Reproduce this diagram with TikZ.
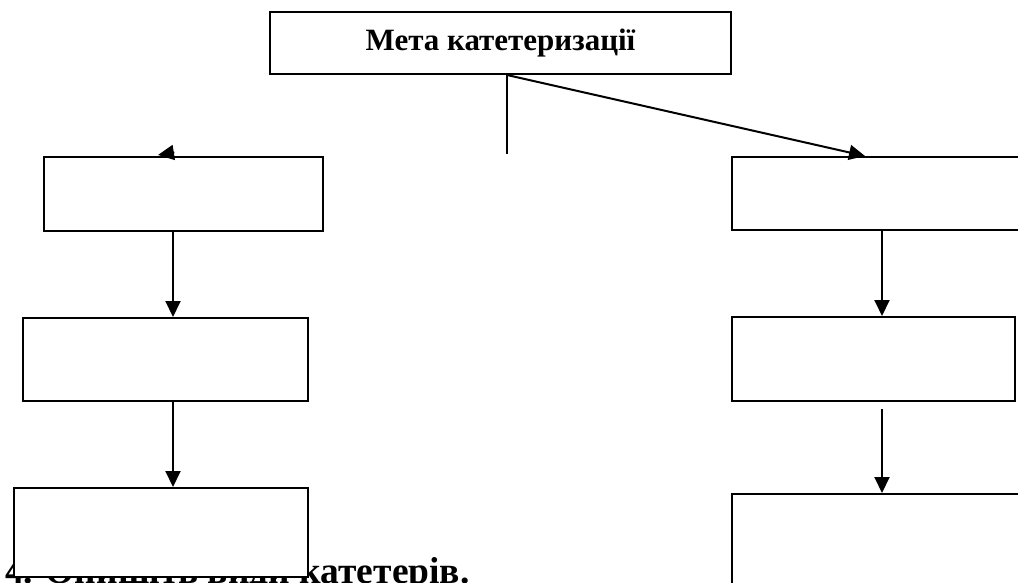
\documentclass[tikz,border=0pt]{standalone}
\usepackage{fontspec}
\setmainfont{Liberation Serif}
\usetikzlibrary{arrows.meta,positioning,calc}

\begin{document}
\begin{tikzpicture}[
    x=1pt, y=-1pt,
    node distance=85pt,
    blank/.style={rectangle, draw=black, line width=2pt, fill=white, inner sep=0pt},
    goal/.style={blank, minimum width=461pt, minimum height=62pt,
        font=\fontsize{31}{36}\selectfont\bfseries},
    arr/.style={-{Triangle[length=16pt, width=15pt]}, line width=2pt}
]
\clip (0,0) rectangle (1018,583);
\fill[white] (0,0) rectangle (1018,583);

\node[anchor=base west, inner sep=0pt, font=\fontsize{37.5}{44}\selectfont\bfseries] (task) at (5,583) {4. Опишіть види катетерів.};

\node[goal] (aim) at (500.5,43) {Мета катетеризації};

% left column
\node[blank, anchor=north west, minimum width=279pt, minimum height=74pt] (lbox1) at (43,156) {};
\node[blank, below=of lbox1.south west, anchor=north west, xshift=-21pt, minimum width=285pt, minimum height=83pt] (lbox2) {};
\node[blank, below=of lbox2.south west, anchor=north west, xshift=-9pt, minimum width=294pt, minimum height=89pt] (lbox3) {};

% right column
\node[blank, anchor=north west, minimum width=294pt, minimum height=73pt] (rbox1) at (731,156) {};
\node[blank, below=of rbox1.south west, anchor=north west, minimum width=283pt, minimum height=84pt] (rbox2) {};
\node[blank, below=91pt of rbox2.south west, anchor=north west, minimum width=294pt, minimum height=120pt] (rbox3) {};

\coordinate (lcol) at (173,0);
\coordinate (rcol) at (882,0);
\coordinate (fork) at ($(aim.south)+(6.5,0)$);
\coordinate (forkend) at ($(fork)+(0,79)$);
\coordinate (ltip) at ($(lbox1.north west)+(115,-1)$);

\draw[line width=2pt] (fork) -- (forkend);
\draw[arr] (fork) -- ($(rbox1.north west)+(134,0)$);
\draw[arr] ($(ltip)+(16.3,-2.6)$) -- (ltip);

\draw[arr] (lcol |- lbox1.south) -- (lcol |- lbox2.north);
\draw[arr] (lcol |- lbox2.south) -- (lcol |- lbox3.north);
\draw[arr] (rcol |- rbox1.south) -- (rcol |- rbox2.north);
\draw[arr] ($(rcol |- rbox2.south)+(0,7)$) -- (rcol |- rbox3.north);
\end{tikzpicture}
\end{document}
